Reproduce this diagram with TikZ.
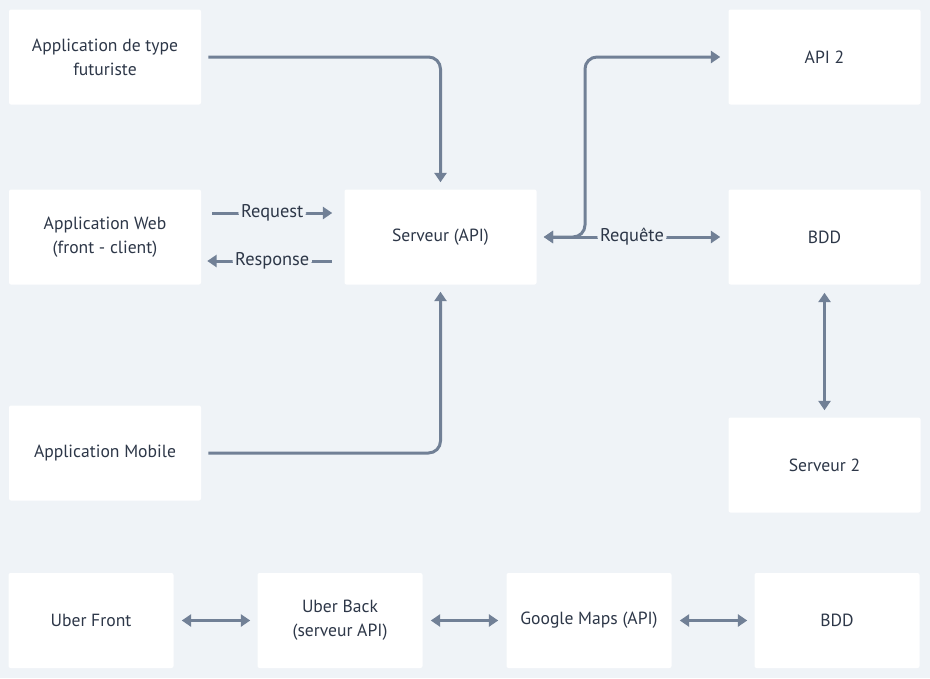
\documentclass[tikz,border=0pt]{standalone}
\usepackage{fontspec}
\setmainfont{PT Sans}
\usetikzlibrary{arrows.meta}
\definecolor{bg}{HTML}{EFF3F7}
\definecolor{ink}{HTML}{2D3748}
\definecolor{wire}{HTML}{718096}
\tikzset{
  box/.style={fill=white, rounded corners=1.5pt, inner sep=0pt, text=ink, align=center, font=\fontsize{13.2}{18}\selectfont},
  conn/.style={draw=wire, line width=2.25pt, rounded corners=9pt, -{Triangle[length=7pt,width=9pt]}},
  dconn/.style={draw=wire, line width=2.25pt, rounded corners=9pt, {Triangle[length=7pt,width=9pt]}-{Triangle[length=7pt,width=9pt]}},
  lbl/.style={fill=bg, text=ink, inner sep=2pt, font=\fontsize{13.8}{16}\selectfont}
}
\begin{document}
\begin{tikzpicture}[x=0.75pt,y=-0.75pt]
\fill[bg] (0,0) rectangle (930,678);
\useasboundingbox (0,0) rectangle (930,678);
% boxes
\node[box, minimum width=192*0.75pt, minimum height=95*0.75pt] (fut) at (105,57) {Application de type\\futuriste};
\node[box, minimum width=192*0.75pt, minimum height=95*0.75pt] (web) at (105,237) {Application Web\\(front - client)};
\node[box, minimum width=192*0.75pt, minimum height=95*0.75pt] (mob) at (105,453) {Application Mobile};
\node[box, minimum width=192*0.75pt, minimum height=95*0.75pt] (srv) at (440.5,237) {Serveur (API)};
\node[box, minimum width=192*0.75pt, minimum height=95*0.75pt] (api) at (824.5,57) {API 2};
\node[box, minimum width=192*0.75pt, minimum height=95*0.75pt] (bdd) at (824.5,237) {BDD};
\node[box, minimum width=192*0.75pt, minimum height=95*0.75pt] (srv2) at (824.5,465) {Serveur 2};
\node[box, minimum width=165*0.75pt, minimum height=95*0.75pt] (uf) at (91,620.5) {Uber Front};
\node[box, minimum width=165*0.75pt, minimum height=95*0.75pt] (ub) at (340,620.5) {Uber Back\\(serveur API)};
\node[box, minimum width=165*0.75pt, minimum height=95*0.75pt] (gm) at (589,620.5) {Google Maps (API)};
\node[box, minimum width=165*0.75pt, minimum height=95*0.75pt] (bdd2) at (837,620.5) {BDD};
% coordinates
\coordinate (futE) at ([xshift=7*0.75pt]fut.east);
\coordinate (mobE) at ([xshift=7*0.75pt]mob.east);
\coordinate (srvN) at ([yshift=7*0.75pt]srv.north);
\coordinate (srvS) at ([yshift=-7*0.75pt]srv.south);
% connectors
\draw[conn] (futE) -| (srvN);
\draw[conn] (mobE) -| (srvS);
\coordinate (rqA) at ([xshift=11*0.75pt, yshift=24*0.75pt]web.east);
\coordinate (rqB) at ([xshift=-12*0.75pt, yshift=24*0.75pt]srv.west);
\coordinate (rsA) at ([xshift=-12*0.75pt, yshift=-24*0.75pt]srv.west);
\coordinate (rsB) at ([xshift=6*0.75pt, yshift=-24*0.75pt]web.east);
\draw[conn] (rqA) -- node[lbl, pos=0.5] {Request} (rqB);
\draw[conn] (rsA) -- node[lbl, pos=0.48] {Response} (rsB);
\coordinate (sE) at ([xshift=7*0.75pt]srv.east);
\coordinate (bW) at ([xshift=-8*0.75pt]bdd.west);
\coordinate (aW) at ([xshift=-8*0.75pt]api.west);
\draw[dconn] (sE) -- node[lbl, pos=0.5] {Requête} (bW);
\draw[dconn] (sE) -- (585,237) -- (585,57) -- (aW);
\draw[dconn] ([yshift=-8*0.75pt]bdd.south) -- ([yshift=7*0.75pt]srv2.north);
\draw[dconn] ([xshift=8*0.75pt]uf.east) -- ([xshift=-7*0.75pt]ub.west);
\draw[dconn] ([xshift=8*0.75pt]ub.east) -- ([xshift=-8*0.75pt]gm.west);
\draw[dconn] ([xshift=8*0.75pt]gm.east) -- ([xshift=-7*0.75pt]bdd2.west);
\end{tikzpicture}
\end{document}
